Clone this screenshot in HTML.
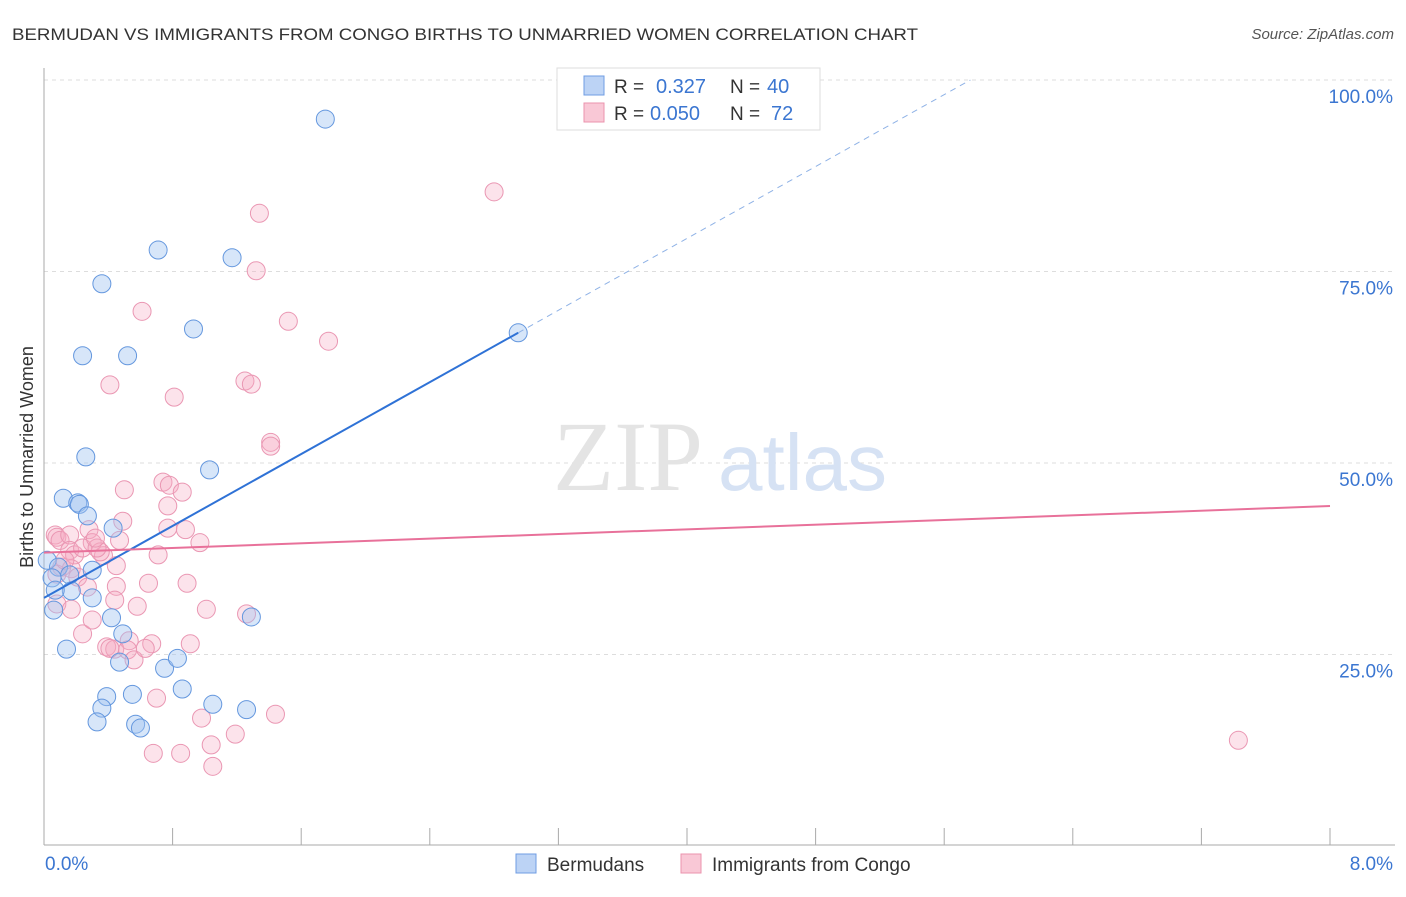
<!DOCTYPE html>
<html><head><meta charset="utf-8"><style>
body{margin:0;background:#fff;width:1406px;height:892px;overflow:hidden;font-family:"Liberation Sans",sans-serif;}
</style></head><body>
<svg id="chart" width="1406" height="892" xmlns="http://www.w3.org/2000/svg">
<text x="12" y="40" font-size="17" fill="#333" textLength="906" lengthAdjust="spacingAndGlyphs">BERMUDAN VS IMMIGRANTS FROM CONGO BIRTHS TO UNMARRIED WOMEN CORRELATION CHART</text>
<text x="1394" y="39" font-size="15" fill="#555" font-style="italic" text-anchor="end">Source: ZipAtlas.com</text>
<text x="33" y="457" font-size="18" fill="#333" text-anchor="middle" transform="rotate(-90 33 457)">Births to Unmarried Women</text>
<g id="grid"></g>
<g id="axes"></g>
<text x="553" y="490" font-size="100" fill="#e4e4e4" font-family="Liberation Serif,serif">ZIP</text>
<text x="718" y="490" font-size="80" fill="#d6e2f4">atlas</text>
<g id="pts"></g>
<g id="lines"></g>
<g>
<rect x="557" y="68" width="263" height="62" fill="#fff" stroke="#ddd"/>
<rect x="584" y="76" width="20" height="19" fill="#bcd3f5" stroke="#6f9de3"/>
<rect x="584" y="103" width="20" height="19" fill="#f9c8d6" stroke="#eb93ad"/>
<text x="614" y="93" font-size="19" fill="#333">R = </text><text x="656" y="93" font-size="20" fill="#3b76d1">0.327</text>
<text x="730" y="93" font-size="19" fill="#333">N = </text><text x="767" y="93" font-size="20" fill="#3b76d1">40</text>
<text x="614" y="120" font-size="19" fill="#333">R = </text><text x="650" y="120" font-size="20" fill="#3b76d1">0.050</text>
<text x="730" y="120" font-size="19" fill="#333">N = </text><text x="771" y="120" font-size="20" fill="#3b76d1">72</text>
</g>
<g>
<rect x="516" y="854" width="20" height="19" fill="#bcd3f5" stroke="#6f9de3"/>
<text x="547" y="871" font-size="19" fill="#333">Bermudans</text>
<rect x="681" y="854" width="20" height="19" fill="#f9c8d6" stroke="#eb93ad"/>
<text x="712" y="871" font-size="19" fill="#333">Immigrants from Congo</text>
</g>
</svg>
<script>
const yTicks=[25,50,75,100];
const yTickLabels=["25.0%","50.0%","75.0%","100.0%"];
const xEndLabels=["0.0%","8.0%"];
const blueX=[1.75,0.71,1.17,0.36,0.93,0.24,0.52,2.95,0.26,1.03,0.12,0.21,0.22,0.27,0.43,0.02,0.09,0.30,0.16,0.05,0.17,0.07,0.30,0.06,0.42,1.29,0.49,0.14,0.47,0.75,0.83,0.39,0.55,0.86,0.36,1.05,1.26,0.33,0.57,0.60];
const blueY=[94.9,77.8,76.8,73.4,67.5,64.0,64.0,67.0,50.8,49.1,45.4,44.8,44.6,43.1,41.5,37.3,36.4,36.0,35.4,35.0,33.3,33.4,32.4,30.8,29.8,29.9,27.7,25.7,24.0,23.2,24.5,19.5,19.8,20.5,18.0,18.5,17.8,16.2,15.9,15.4];
const pinkX=[2.80,1.34,1.32,0.61,1.52,1.77,0.41,1.25,1.29,0.81,1.41,1.41,0.74,0.78,0.50,0.86,0.77,0.49,0.28,0.07,0.08,0.10,0.16,0.16,0.19,0.30,0.37,0.35,0.24,0.33,0.32,0.47,0.97,0.88,0.77,0.71,0.45,0.11,0.17,0.21,0.65,0.89,0.27,0.45,0.08,0.44,0.58,1.01,1.26,0.17,0.24,0.30,0.53,0.67,0.39,0.44,0.41,0.52,0.56,0.91,0.63,0.70,0.98,1.44,1.04,0.68,0.85,1.19,1.05,7.43,0.08,0.13];
const pinkY=[85.4,82.6,75.1,69.8,68.5,65.9,60.2,60.7,60.3,58.6,52.7,52.2,47.5,47.1,46.5,46.2,44.4,42.4,41.3,40.6,40.3,39.9,40.6,38.6,38.0,39.6,37.9,38.4,38.9,38.9,40.2,39.9,39.6,41.3,41.5,38.0,36.6,36.4,36.2,35.1,34.3,34.3,33.8,33.9,31.6,32.1,31.3,30.9,30.3,30.9,27.7,29.5,26.8,26.4,26.0,25.7,25.8,25.6,24.3,26.4,25.8,19.3,16.7,17.2,13.2,12.1,12.1,14.6,10.4,13.8,35.5,37.3];
const blueFit=[32.4,11.73];
const pinkFit=[38.3,0.76];
const X0=44,X1=1330,Y0=846,Y100=80;
const sx=v=>X0+(X1-X0)*v/8;
const sy=v=>Y0-(Y0-Y100)*v/100;
const NS="http://www.w3.org/2000/svg";
function mk(tag,attrs,parent){const e=document.createElementNS(NS,tag);for(const k in attrs)e.setAttribute(k,attrs[k]);parent.appendChild(e);return e;}
const grid=document.getElementById('grid'),axes=document.getElementById('axes');
yTicks.forEach((t,i)=>{
 const l=mk('line',{x1:X0,x2:1395,y1:sy(t),y2:sy(t),stroke:'#ddd','stroke-dasharray':'4,4'},grid);
 
 
 const tx=mk('text',{x:1393,y:sy(t)+23,'font-size':19,fill:'#3b76d1','text-anchor':'end'},grid);
 tx.textContent=yTickLabels[i];
 
 
});
mk('line',{x1:X0,x2:X0,y1:68,y2:845,stroke:'#aaa'},axes);
mk('line',{x1:X0,x2:1395,y1:845,y2:845,stroke:'#aaa'},axes);
for(let i=0;i<=10;i++){const x=sx(i*0.8);const t=mk('line',{x1:x,x2:x,y1:828,y2:845,stroke:'#aaa'},axes);
 
 }
const xl0=mk('text',{x:45,y:870,'font-size':19,fill:'#3b76d1'},axes);xl0.textContent=xEndLabels[0];


const xl1=mk('text',{x:1393,y:870,'font-size':19,fill:'#3b76d1','text-anchor':'end'},axes);xl1.textContent=xEndLabels[1];


const pts=document.getElementById('pts');
pinkX.forEach((v,i)=>{const c=mk('circle',{cx:sx(v),cy:sy(pinkY[i]),r:9,fill:'rgba(246,170,195,0.33)',stroke:'#ea97b3','stroke-width':1},pts);
 
 });
blueX.forEach((v,i)=>{const c=mk('circle',{cx:sx(v),cy:sy(blueY[i]),r:9,fill:'rgba(160,195,240,0.42)',stroke:'#6497de','stroke-width':1},pts);
 
 });
const lines=document.getElementById('lines');
const bx2=Math.max(...blueX), bxEnd=(100-blueFit[0])/blueFit[1];
const bl=mk('line',{x1:sx(0),y1:sy(blueFit[0]),x2:sx(bx2),y2:sy(blueFit[0]+blueFit[1]*bx2),stroke:'#2f72d6','stroke-width':2},lines);


const bd=mk('line',{x1:sx(bx2),y1:sy(blueFit[0]+blueFit[1]*bx2),x2:sx(bxEnd),y2:sy(100),stroke:'#8fb2e6','stroke-width':1,'stroke-dasharray':'6,5'},lines);


const pl=mk('line',{x1:sx(0),y1:sy(pinkFit[0]),x2:sx(8),y2:sy(pinkFit[0]+pinkFit[1]*8),stroke:'#e8719a','stroke-width':2},lines);


</script>
</body></html>
